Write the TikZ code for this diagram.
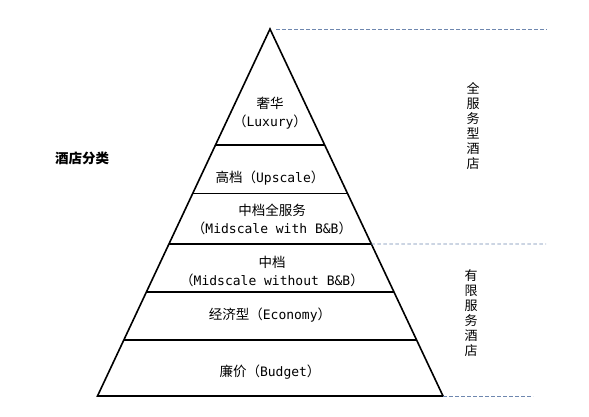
\documentclass[tikz,border=0pt]{standalone}
\usepackage{fontspec}
\setmonofont{DejaVu Sans Mono}
\newfontfamily\cjk{Noto Sans CJK SC}
\usetikzlibrary{calc}
\definecolor{dashblue}{RGB}{110,135,175}
\tikzset{
  tri/.style={draw=black, line width=1.6pt, line join=miter},
  sep/.style={draw=black, line width=1.1pt},
  guide/.style={draw=dashblue, line width=0.8pt, dash pattern=on 3.5pt off 2.5pt},
  lbl/.style={align=center, inner sep=0pt, font=\fontsize{13}{18}\selectfont\ttfamily},
  vlbl/.style={align=center, inner sep=0pt, font=\fontsize{13}{15}\selectfont\cjk},
}
\newcommand{\zh}[1]{{\cjk\fontsize{13.5}{18}\selectfont #1}}
\begin{document}
\begin{tikzpicture}[x=1pt,y=-1pt]
\useasboundingbox (0,0) rectangle (589,417);
\coordinate (apex) at (270,29);
\coordinate (bl) at (97.5,396);
\coordinate (br) at (443,396);
% separator end points
\foreach \n/\t in {a/0.3161, b/0.4482, c/0.5858, d/0.7166, e/0.8474}{
  \coordinate (\n L) at ($(apex)!\t!(bl)$);
  \coordinate (\n R) at ($(apex)!\t!(br)$);
}
\draw[tri] (apex) -- (bl) -- (br) -- cycle;
\foreach \n in {a,b,c,d,e}{ \draw[sep] (\n L) -- (\n R); }
% dashed guides
\coordinate (g1) at (547,29);
\coordinate (g2) at (546,244);
\coordinate (g3) at (533,396);
\draw[guide] ($(apex)+(6,0)$) -- (g1);
\draw[guide] (cR) -- (g2);
\draw[guide] (br) -- (g3);
% labels
\node[lbl] (lux) at (270,113) {\zh{奢华}\\\zh{（}Luxury\zh{）}};
\node[lbl] (ups) at (270,178) {\zh{高档（}Upscale\zh{）}};
\node[lbl] (mfs) at (272,219) {\zh{中档全服务}\\\zh{（}Midscale with B\&B\zh{）}};
\node[lbl] (mid) at (272,271) {\zh{中档}\\\zh{（}Midscale without B\&B\zh{）}};
\node[lbl] (eco) at (270,315) {\zh{经济型（}Economy\zh{）}};
\node[lbl] (bud) at (270,372) {\zh{廉价（}Budget\zh{）}};
\node[vlbl] (full) at (473,126) {全\\服\\务\\型\\酒\\店};
\node[vlbl] (lim) at (471,313) {有\\限\\服\\务\\酒\\店};
\node[inner sep=0pt, font=\cjk\bfseries\fontsize{13.5}{16}\selectfont] (cat) at (82,158) {酒店分类};
\end{tikzpicture}
\end{document}
